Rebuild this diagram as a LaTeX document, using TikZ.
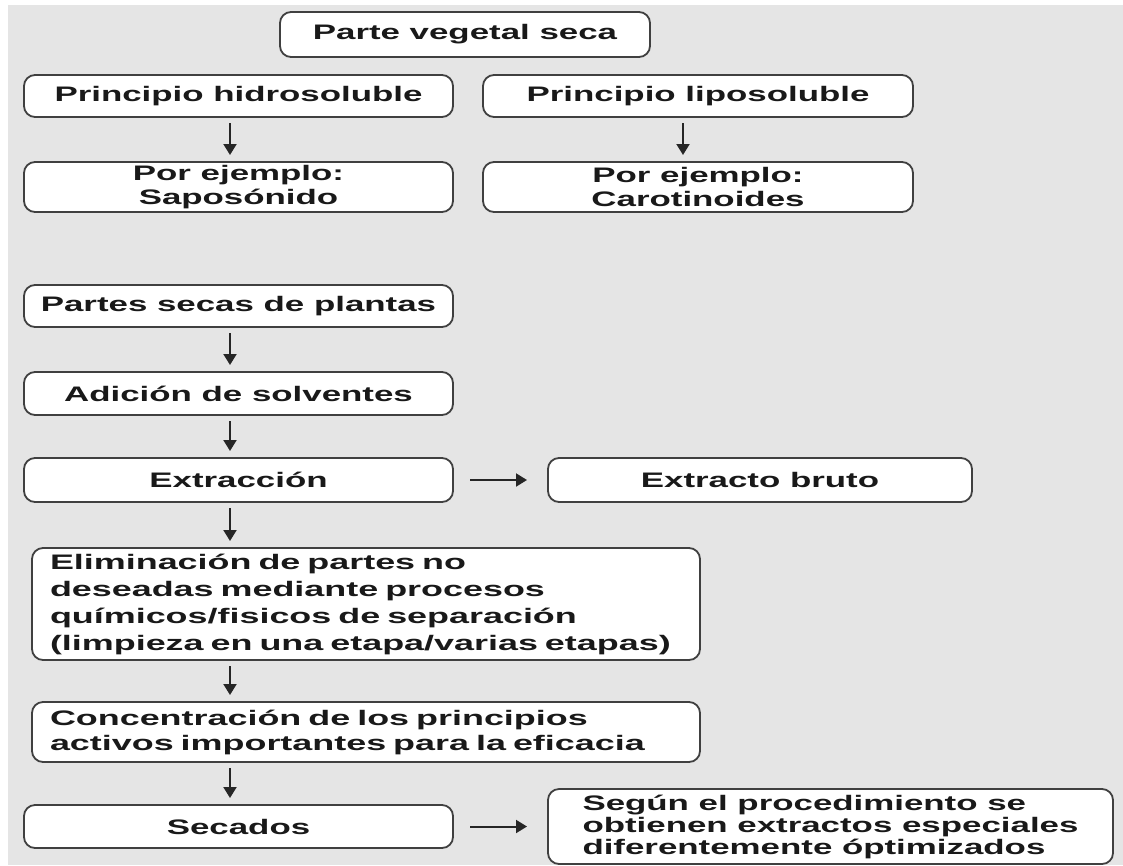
\documentclass[tikz,border=0pt]{standalone}
\usepackage{fontspec}
\setmainfont[FakeStretch=1.66]{Liberation Sans}
\usetikzlibrary{positioning,calc,arrows.meta}
\tikzset{
  >={Triangle[width=13pt,length=11pt]},
  flow/.style={->,line width=2pt,draw=black!85,shorten <=6pt,shorten >=7pt},
  boxnode/.style args={#1,#2}{
  draw=black!75,
  rounded corners=11pt,
  fill=white,
  line width=1.8pt,
  minimum width=#1pt,
  minimum height=#2pt,
  inner sep=2pt,
  outer sep=0pt,
  font=\fontsize{21}{24}\selectfont\bfseries,
  text=black!90,
  align=center
  },
  textleft/.style={align=left,text width=#1pt,inner xsep=18pt},
  tightlines/.style={execute at begin node={\setlength{\lineskiplimit}{-8pt}}},
}

\begin{document}
\begin{tikzpicture}[x=1pt,y=-1pt]
  \useasboundingbox (0,0) rectangle (1123,865);
  \fill[black!10] (8,5) rectangle (1123,865);

  % upper part
  \node[boxnode={370,45}] (veg) at (465,34.5) {Parte vegetal seca};
  \node[boxnode={429,42}] (hidro) at (238.5,96) {Principio hidrosoluble};
  \node[boxnode={430,42},right=30pt of hidro] (lipo) {Principio liposoluble};
  \node[boxnode={429,50},below=45pt of hidro] (sapo) {Por ejemplo:\\Saposónido};
  \node[boxnode={430,50},below=45pt of lipo] (carot) {Por ejemplo:\\Carotinoides};

  % process
  \node[boxnode={429,42},below=73pt of sapo] (partes) {Partes secas de plantas};
  \node[boxnode={429,43},below=45pt of partes] (adic) {Adición de solventes};
  \node[boxnode={429,44},below=43pt of adic] (extr) {Extracción};
  \node[boxnode={424,44},right=95pt of extr] (bruto) {Extracto bruto};
  \node[boxnode={668,112},textleft=632,
        font=\fontsize{21}{27}\selectfont\bfseries\addfontfeature{FakeStretch=1.71},
        below right=46pt and 8pt of extr.south west] (elim)
        {Eliminación de partes no\\
         deseadas mediante procesos\\
         químicos/fisicos de separación\\
         (limpieza en una etapa/varias etapas)};
  \node[boxnode={668,60},textleft=632,
        font=\fontsize{21}{25}\selectfont\bfseries\addfontfeature{FakeStretch=1.71},
        below=42pt of elim] (conc)
        {Concentración de los principios\\
         activos importantes para la eficacia};
  \node[boxnode={429,43},below right=43pt and -8pt of conc.south west] (sec) {Secados};
  \node[boxnode={565,75},align=left,tightlines,
        font=\fontsize{21}{22}\selectfont\bfseries,
        right=95pt of sec] (segun)
        {Según el procedimiento se\\
         obtienen extractos especiales\\
         diferentemente óptimizados};

  \coordinate (lcol) at (230,0);
  \coordinate (rcol) at (683,0);
  \draw[flow] (hidro.south -| lcol) -- (sapo.north -| lcol);
  \draw[flow] (lipo.south -| rcol) -- (carot.north -| rcol);
  \draw[flow] (partes.south -| lcol) -- (adic.north -| lcol);
  \draw[flow] (adic.south -| lcol) -- (extr.north -| lcol);
  \draw[flow] (extr.south -| lcol) -- (elim.north -| lcol);
  \draw[flow] (elim.south -| lcol) -- (conc.north -| lcol);
  \draw[flow] (conc.south -| lcol) -- (sec.north -| lcol);
  \draw[flow,shorten <=17pt,shorten >=21pt] (extr) -- (bruto);
  \draw[flow,shorten <=17pt,shorten >=21pt] (sec.east) -- (sec.east -| segun.west);
\end{tikzpicture}
\end{document}
